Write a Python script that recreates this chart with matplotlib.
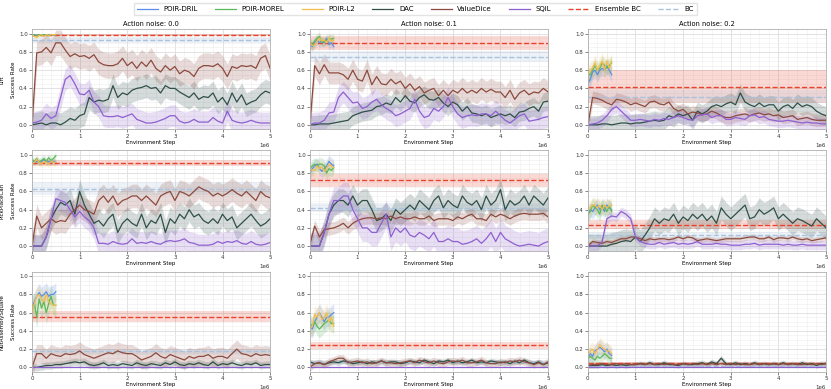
import numpy as np
import matplotlib
matplotlib.use("Agg")
import matplotlib.pyplot as plt
from matplotlib.ticker import AutoMinorLocator

# evaluation steps
STEPS = np.arange(51) * 1e5          # 0 .. 5e6, long runs
POIR_STEPS = np.arange(11) * 5e4     # 0 .. 5e5, POIR runs

TASKS = ["Lift", "PickPlaceCan", "NutAssemblySquare"]
NOISES = ["0.0", "0.1", "0.2"]
METHODS = ["POIR-DRIL", "POIR-MOREL", "POIR-L2", "DAC", "ValueDice", "SQIL"]

# ---------------- Lift ----------------
LIFT_0_DRIL = [0.99, 0.99, 0.98, 0.99, 0.99, 0.99, 0.98, 0.99, 0.99, 0.99, 0.99]
LIFT_0_MOREL = [0.98, 0.99, 0.98, 0.99, 0.98, 0.99, 0.99, 0.98, 0.99, 0.99, 0.99]
LIFT_0_L2 = [0.99, 0.97, 0.96, 0.98, 0.99, 0.97, 0.99, 0.98, 0.99, 0.99, 0.99]
LIFT_0_DAC = [0.0, 0.01, 0.02, 0.0, 0.02, 0.02, 0.0, 0.03, 0.07, 0.05, 0.1, 0.12, 0.3, 0.25, 0.27, 0.26, 0.28,
              0.43, 0.3, 0.35, 0.33, 0.38, 0.4, 0.41, 0.43, 0.4, 0.41, 0.35, 0.43, 0.4, 0.4, 0.36, 0.33, 0.3,
              0.35, 0.28, 0.31, 0.3, 0.35, 0.25, 0.3, 0.22, 0.35, 0.25, 0.33, 0.22, 0.25, 0.27, 0.33, 0.37, 0.35]
LIFT_0_VDICE = [0.0, 0.79, 0.8, 0.85, 0.79, 0.9, 0.9, 0.82, 0.75, 0.78, 0.75, 0.76, 0.73, 0.77, 0.69, 0.66, 0.65,
                0.65, 0.67, 0.73, 0.65, 0.69, 0.62, 0.69, 0.64, 0.71, 0.62, 0.58, 0.65, 0.6, 0.64, 0.56, 0.6,
                0.58, 0.53, 0.62, 0.65, 0.65, 0.64, 0.67, 0.62, 0.53, 0.64, 0.62, 0.65, 0.64, 0.65, 0.62, 0.73,
                0.76, 0.62]
LIFT_0_SQIL = [0.02, 0.03, 0.05, 0.12, 0.07, 0.1, 0.3, 0.5, 0.54, 0.45, 0.34, 0.33, 0.38, 0.25, 0.2, 0.1, 0.09,
               0.09, 0.1, 0.08, 0.1, 0.12, 0.06, 0.04, 0.02, 0.02, 0.03, 0.05, 0.07, 0.1, 0.1, 0.04, 0.02, 0.03,
               0.06, 0.03, 0.03, 0.03, 0.08, 0.04, 0.02, 0.15, 0.05, 0.03, 0.02, 0.03, 0.05, 0.03, 0.02, 0.02, 0.02]

LIFT_1_DRIL = [0.88, 0.86, 0.9, 0.93, 0.9, 0.92, 0.9, 0.95, 0.88, 0.9, 0.86]
LIFT_1_MOREL = [0.9, 0.88, 0.92, 0.95, 0.97, 0.9, 0.92, 0.92, 0.95, 0.94, 0.95]
LIFT_1_L2 = [0.9, 0.87, 0.88, 0.92, 0.95, 0.92, 0.93, 0.9, 0.95, 0.92, 0.93]
LIFT_1_DAC = [0.0, 0.0, 0.01, 0.01, 0.01, 0.02, 0.03, 0.04, 0.05, 0.1, 0.12, 0.14, 0.15, 0.16, 0.2, 0.21, 0.24,
              0.22, 0.3, 0.25, 0.32, 0.26, 0.24, 0.3, 0.33, 0.28, 0.27, 0.3, 0.24, 0.2, 0.25, 0.22, 0.15, 0.2,
              0.13, 0.12, 0.1, 0.12, 0.08, 0.1, 0.12, 0.1, 0.12, 0.08, 0.14, 0.15, 0.18, 0.2, 0.15, 0.25, 0.26]
LIFT_1_VDICE = [0.0, 0.65, 0.56, 0.66, 0.57, 0.57, 0.57, 0.55, 0.5, 0.6, 0.5, 0.48, 0.6, 0.44, 0.53, 0.45, 0.44,
                0.5, 0.45, 0.48, 0.4, 0.45, 0.38, 0.42, 0.35, 0.38, 0.4, 0.32, 0.38, 0.32, 0.38, 0.35, 0.4, 0.35,
                0.38, 0.35, 0.4, 0.36, 0.39, 0.36, 0.36, 0.3, 0.38, 0.28, 0.35, 0.38, 0.33, 0.36, 0.35, 0.4, 0.36]
LIFT_1_SQIL = [0.0, 0.02, 0.02, 0.05, 0.13, 0.14, 0.3, 0.36, 0.3, 0.24, 0.25, 0.18, 0.2, 0.25, 0.28, 0.22, 0.18,
               0.15, 0.1, 0.12, 0.15, 0.18, 0.28, 0.15, 0.08, 0.1, 0.18, 0.15, 0.2, 0.3, 0.2, 0.12, 0.08, 0.1,
               0.11, 0.1, 0.12, 0.12, 0.1, 0.15, 0.1, 0.05, 0.02, 0.06, 0.1, 0.12, 0.04, 0.05, 0.06, 0.08, 0.09]

LIFT_2_DRIL = [0.45, 0.5, 0.58, 0.6, 0.55, 0.6, 0.62, 0.6, 0.65, 0.6, 0.55]
LIFT_2_MOREL = [0.55, 0.55, 0.6, 0.65, 0.6, 0.62, 0.68, 0.65, 0.62, 0.65, 0.68]
LIFT_2_L2 = [0.55, 0.6, 0.62, 0.68, 0.6, 0.65, 0.7, 0.6, 0.7, 0.62, 0.7]
LIFT_2_DAC = [0.0, 0.0, 0.0, 0.01, 0.01, 0.0, 0.01, 0.02, 0.02, 0.01, 0.02, 0.02, 0.03, 0.04, 0.05, 0.04, 0.05,
              0.1, 0.08, 0.12, 0.1, 0.12, 0.05, 0.15, 0.12, 0.15, 0.2, 0.22, 0.2, 0.23, 0.25, 0.22, 0.35, 0.25,
              0.22, 0.2, 0.24, 0.2, 0.22, 0.22, 0.15, 0.2, 0.22, 0.18, 0.24, 0.2, 0.22, 0.2, 0.15, 0.12, 0.1]
LIFT_2_VDICE = [0.0, 0.3, 0.29, 0.27, 0.24, 0.22, 0.28, 0.27, 0.25, 0.22, 0.24, 0.22, 0.2, 0.25, 0.26, 0.23, 0.22,
                0.25, 0.18, 0.15, 0.17, 0.12, 0.14, 0.13, 0.11, 0.12, 0.15, 0.13, 0.1, 0.08, 0.08, 0.1, 0.11,
                0.12, 0.1, 0.12, 0.13, 0.11, 0.12, 0.1, 0.11, 0.08, 0.09, 0.1, 0.06, 0.07, 0.08, 0.06, 0.05,
                0.05, 0.05]
LIFT_2_SQIL = [0.0, 0.01, 0.02, 0.05, 0.1, 0.17, 0.2, 0.15, 0.1, 0.05, 0.05, 0.06, 0.05, 0.04, 0.06, 0.05, 0.07,
               0.06, 0.08, 0.1, 0.08, 0.06, 0.05, 0.1, 0.11, 0.12, 0.08, 0.1, 0.1, 0.06, 0.06, 0.08, 0.07, 0.06,
               0.1, 0.11, 0.08, 0.09, 0.06, 0.05, 0.04, 0.04, 0.05, 0.04, 0.03, 0.02, 0.03, 0.02, 0.02, 0.01, 0.01]

# ---------------- PickPlaceCan ----------------
CAN_0_DRIL = [0.93, 0.92, 0.93, 0.92, 0.93, 0.95, 0.92, 0.93, 0.92, 0.93, 0.92]
CAN_0_MOREL = [0.95, 0.93, 0.96, 0.92, 0.94, 0.96, 0.93, 0.97, 0.94, 0.96, 0.99]
CAN_0_L2 = [0.9, 0.92, 0.95, 0.92, 0.9, 0.93, 0.92, 0.9, 0.93, 0.92, 0.92]
CAN_0_DAC = [0.0, 0.0, 0.0, 0.1, 0.3, 0.4, 0.48, 0.45, 0.5, 0.35, 0.6, 0.45, 0.35, 0.25, 0.28, 0.22, 0.3, 0.35,
             0.15, 0.25, 0.3, 0.25, 0.22, 0.35, 0.2, 0.28, 0.25, 0.35, 0.15, 0.3, 0.25, 0.35, 0.3, 0.4, 0.32,
             0.35, 0.28, 0.25, 0.3, 0.25, 0.35, 0.28, 0.32, 0.2, 0.25, 0.3, 0.35, 0.28, 0.22, 0.25, 0.3]
CAN_0_VDICE = [0.0, 0.33, 0.2, 0.25, 0.3, 0.26, 0.28, 0.27, 0.35, 0.4, 0.45, 0.4, 0.38, 0.35, 0.5, 0.55, 0.48,
               0.55, 0.45, 0.5, 0.52, 0.55, 0.55, 0.5, 0.55, 0.5, 0.45, 0.55, 0.58, 0.6, 0.5, 0.6, 0.58, 0.55,
               0.6, 0.65, 0.62, 0.6, 0.55, 0.58, 0.55, 0.58, 0.62, 0.58, 0.55, 0.6, 0.55, 0.5, 0.6, 0.55, 0.53]
CAN_0_SQIL = [0.0, 0.0, 0.0, 0.1, 0.3, 0.52, 0.5, 0.48, 0.4, 0.32, 0.38, 0.32, 0.28, 0.2, 0.03, 0.03, 0.02, 0.05,
              0.03, 0.02, 0.03, 0.08, 0.03, 0.04, 0.03, 0.05, 0.03, 0.02, 0.05, 0.06, 0.05, 0.06, 0.08, 0.04,
              0.03, 0.01, 0.01, 0.01, 0.02, 0.05, 0.03, 0.05, 0.04, 0.06, 0.03, 0.02, 0.05, 0.02, 0.01, 0.02, 0.04]

CAN_1_DRIL = [0.8, 0.85, 0.88, 0.9, 0.85, 0.82, 0.85, 0.88, 0.93, 0.9, 0.88]
CAN_1_MOREL = [0.85, 0.88, 0.9, 0.88, 0.9, 0.9, 0.88, 0.8, 0.85, 0.83, 0.86]
CAN_1_L2 = [0.82, 0.84, 0.83, 0.88, 0.85, 0.87, 0.82, 0.85, 0.9, 0.88, 0.86]
CAN_1_DAC = [0.0, 0.0, 0.0, 0.15, 0.35, 0.45, 0.5, 0.5, 0.45, 0.55, 0.45, 0.5, 0.5, 0.4, 0.28, 0.3, 0.35, 0.28,
             0.4, 0.35, 0.4, 0.45, 0.4, 0.5, 0.45, 0.4, 0.5, 0.55, 0.42, 0.5, 0.45, 0.42, 0.55, 0.48, 0.45, 0.5,
             0.4, 0.55, 0.45, 0.5, 0.62, 0.4, 0.5, 0.45, 0.48, 0.55, 0.45, 0.55, 0.5, 0.45, 0.53]
CAN_1_VDICE = [0.02, 0.22, 0.1, 0.18, 0.19, 0.2, 0.22, 0.25, 0.2, 0.25, 0.28, 0.3, 0.31, 0.31, 0.3, 0.31, 0.3,
               0.33, 0.3, 0.32, 0.3, 0.3, 0.32, 0.3, 0.3, 0.33, 0.28, 0.3, 0.3, 0.3, 0.28, 0.32, 0.3, 0.33, 0.35,
               0.3, 0.3, 0.28, 0.35, 0.32, 0.35, 0.33, 0.3, 0.33, 0.35, 0.36, 0.35, 0.35, 0.35, 0.36, 0.32]
CAN_1_SQIL = [0.0, 0.0, 0.0, 0.15, 0.35, 0.5, 0.5, 0.55, 0.55, 0.4, 0.3, 0.2, 0.2, 0.15, 0.15, 0.25, 0.35, 0.1,
              0.2, 0.15, 0.2, 0.12, 0.1, 0.15, 0.12, 0.08, 0.15, 0.05, 0.05, 0.08, 0.05, 0.05, 0.02, 0.03, 0.05,
              0.08, 0.03, 0.08, 0.15, 0.05, 0.15, 0.08, 0.05, 0.02, 0.0, 0.01, 0.02, 0.01, 0.0, 0.03, 0.05]

CAN_2_DRIL = [0.35, 0.4, 0.38, 0.42, 0.45, 0.4, 0.43, 0.38, 0.45, 0.42, 0.4]
CAN_2_MOREL = [0.35, 0.38, 0.45, 0.42, 0.4, 0.35, 0.45, 0.42, 0.38, 0.44, 0.38]
CAN_2_L2 = [0.38, 0.42, 0.45, 0.45, 0.42, 0.45, 0.4, 0.45, 0.42, 0.44, 0.45]
CAN_2_DAC = [0.0, 0.0, 0.0, 0.0, 0.0, 0.02, 0.03, 0.05, 0.06, 0.05, 0.1, 0.05, 0.12, 0.2, 0.3, 0.25, 0.3, 0.28,
             0.35, 0.25, 0.32, 0.28, 0.35, 0.3, 0.35, 0.28, 0.33, 0.25, 0.42, 0.35, 0.3, 0.35, 0.4, 0.45, 0.3,
             0.32, 0.4, 0.35, 0.38, 0.42, 0.3, 0.35, 0.3, 0.25, 0.3, 0.28, 0.25, 0.22, 0.3, 0.25, 0.2]
CAN_2_VDICE = [0.0, 0.05, 0.04, 0.03, 0.05, 0.04, 0.06, 0.08, 0.08, 0.1, 0.1, 0.08, 0.06, 0.08, 0.07, 0.08, 0.08,
               0.07, 0.08, 0.1, 0.08, 0.1, 0.09, 0.06, 0.07, 0.08, 0.07, 0.06, 0.07, 0.08, 0.08, 0.08, 0.08,
               0.09, 0.1, 0.1, 0.08, 0.08, 0.1, 0.07, 0.09, 0.09, 0.08, 0.1, 0.08, 0.07, 0.08, 0.06, 0.07, 0.08,
               0.09]
CAN_2_SQIL = [0.0, 0.0, 0.0, 0.05, 0.3, 0.33, 0.32, 0.38, 0.35, 0.3, 0.1, 0.05, 0.03, 0.02, 0.02, 0.04, 0.02,
              0.03, 0.04, 0.02, 0.03, 0.02, 0.03, 0.05, 0.02, 0.02, 0.02, 0.03, 0.02, 0.02, 0.01, 0.01, 0.01,
              0.02, 0.02, 0.03, 0.01, 0.02, 0.02, 0.02, 0.02, 0.01, 0.02, 0.01, 0.01, 0.02, 0.01, 0.01, 0.01,
              0.01, 0.01]

# ---------------- NutAssemblySquare ----------------
NUT_0_DRIL = [0.68, 0.72, 0.78, 0.82, 0.78, 0.8, 0.83, 0.78, 0.8, 0.8, 0.83]
NUT_0_MOREL = [0.65, 0.7, 0.55, 0.75, 0.65, 0.72, 0.6, 0.7, 0.78, 0.68, 0.68]
NUT_0_L2 = [0.58, 0.7, 0.78, 0.8, 0.75, 0.72, 0.8, 0.72, 0.7, 0.68, 0.68]
NUT_0_DAC = [0.0, 0.0, 0.01, 0.02, 0.02, 0.03, 0.03, 0.04, 0.05, 0.06, 0.05, 0.06, 0.03, 0.02, 0.03, 0.05, 0.02,
             0.03, 0.02, 0.04, 0.03, 0.02, 0.05, 0.03, 0.02, 0.04, 0.03, 0.02, 0.05, 0.03, 0.06, 0.03, 0.02,
             0.04, 0.03, 0.05, 0.03, 0.02, 0.06, 0.02, 0.04, 0.03, 0.05, 0.03, 0.02, 0.04, 0.03, 0.05, 0.02,
             0.03, 0.03]
NUT_0_VDICE = [0.0, 0.15, 0.15, 0.1, 0.15, 0.13, 0.12, 0.15, 0.14, 0.15, 0.18, 0.14, 0.12, 0.1, 0.12, 0.14, 0.16,
               0.15, 0.18, 0.16, 0.15, 0.15, 0.12, 0.08, 0.1, 0.12, 0.16, 0.12, 0.1, 0.14, 0.12, 0.1, 0.08, 0.12,
               0.1, 0.12, 0.12, 0.14, 0.1, 0.12, 0.12, 0.1, 0.15, 0.2, 0.15, 0.14, 0.12, 0.15, 0.13, 0.14, 0.13]
NUT_0_SQIL = [0.0] * 51

NUT_1_DRIL = [0.45, 0.42, 0.5, 0.55, 0.6, 0.55, 0.5, 0.55, 0.55, 0.58, 0.6]
NUT_1_MOREL = [0.48, 0.45, 0.5, 0.45, 0.42, 0.45, 0.48, 0.5, 0.52, 0.48, 0.48]
NUT_1_L2 = [0.42, 0.45, 0.58, 0.55, 0.6, 0.52, 0.55, 0.6, 0.5, 0.55, 0.45]
NUT_1_DAC = [0.06, 0.04, 0.05, 0.03, 0.05, 0.06, 0.05, 0.07, 0.06, 0.04, 0.05, 0.06, 0.04, 0.06, 0.05, 0.07, 0.05,
             0.06, 0.06, 0.04, 0.05, 0.07, 0.06, 0.05, 0.08, 0.06, 0.04, 0.07, 0.06, 0.08, 0.05, 0.07, 0.05,
             0.06, 0.08, 0.05, 0.06, 0.05, 0.07, 0.06, 0.05, 0.06, 0.04, 0.07, 0.05, 0.08, 0.05, 0.04, 0.06,
             0.03, 0.05]
NUT_1_VDICE = [0.0, 0.04, 0.05, 0.03, 0.06, 0.08, 0.1, 0.1, 0.05, 0.06, 0.07, 0.05, 0.06, 0.04, 0.05, 0.07, 0.05,
               0.05, 0.04, 0.05, 0.06, 0.07, 0.05, 0.08, 0.06, 0.05, 0.07, 0.05, 0.04, 0.06, 0.07, 0.06, 0.08,
               0.05, 0.05, 0.06, 0.08, 0.05, 0.04, 0.04, 0.06, 0.05, 0.07, 0.06, 0.08, 0.06, 0.05, 0.03, 0.05,
               0.03, 0.06]
NUT_1_SQIL = [0.0] * 51

NUT_2_DRIL = [0.1, 0.15, 0.12, 0.18, 0.2, 0.22, 0.2, 0.17, 0.2, 0.15, 0.13]
NUT_2_MOREL = [0.1, 0.12, 0.1, 0.08, 0.12, 0.1, 0.12, 0.15, 0.13, 0.1, 0.1]
NUT_2_L2 = [0.12, 0.18, 0.2, 0.15, 0.2, 0.25, 0.22, 0.2, 0.18, 0.18, 0.15]
NUT_2_DAC = [0.02, 0.02, 0.02, 0.03, 0.02, 0.03, 0.02, 0.03, 0.02, 0.03, 0.03, 0.04, 0.03, 0.05, 0.03, 0.03,
             0.05, 0.03, 0.03, 0.02, 0.04, 0.03, 0.03, 0.04, 0.05, 0.03, 0.06, 0.04, 0.1, 0.04, 0.03, 0.05,
             0.03, 0.04, 0.03, 0.05, 0.03, 0.04, 0.03, 0.04, 0.03, 0.05, 0.03, 0.04, 0.03, 0.05, 0.03, 0.04,
             0.02, 0.04, 0.04]
NUT_2_VDICE = [0.02, 0.03, 0.03, 0.04, 0.03, 0.03, 0.04, 0.03, 0.04, 0.03, 0.03, 0.04, 0.03, 0.04, 0.03, 0.04,
               0.03, 0.04, 0.03, 0.03, 0.04, 0.03, 0.04, 0.03, 0.04, 0.03, 0.04, 0.03, 0.04, 0.03, 0.04, 0.03,
               0.04, 0.03, 0.03, 0.04, 0.03, 0.04, 0.03, 0.04, 0.03, 0.04, 0.03, 0.04, 0.03, 0.03, 0.04, 0.03,
               0.04, 0.03, 0.04]
NUT_2_SQIL = [0.0] * 51

# band half-widths per panel, order: DRIL, MOREL, L2, DAC, ValueDice, SQIL
STD_LIFT = [[0.01, 0.01, 0.015, 0.13, 0.14, 0.12],
            [0.05, 0.05, 0.05, 0.1, 0.12, 0.12],
            [0.08, 0.08, 0.09, 0.1, 0.07, 0.07]]
STD_CAN = [[0.03, 0.04, 0.04, 0.13, 0.13, 0.12],
           [0.07, 0.07, 0.07, 0.13, 0.07, 0.15],
           [0.08, 0.08, 0.08, 0.13, 0.03, 0.05]]
STD_NUT = [[0.1, 0.12, 0.1, 0.04, 0.1, 0.005],
           [0.1, 0.1, 0.1, 0.03, 0.04, 0.005],
           [0.08, 0.06, 0.08, 0.03, 0.02, 0.005]]

# (mean, half band) per panel, rows = task, cols = noise
ENSEMBLE_BC = [[(0.99, 0.01), (0.9, 0.08), (0.42, 0.18)],
               [(0.91, 0.03), (0.72, 0.07), (0.235, 0.05)],
               [(0.555, 0.06), (0.24, 0.04), (0.045, 0.012)]]
BC = [[(0.93, 0.03), (0.745, 0.06), (0.31, 0.07)],
      [(0.63, 0.07), (0.42, 0.05), (0.12, 0.04)],
      [(0.175, 0.03), (0.06, 0.02), (0.02, 0.01)]]

CURVES = {
    ("Lift", 0): [LIFT_0_DRIL, LIFT_0_MOREL, LIFT_0_L2, LIFT_0_DAC, LIFT_0_VDICE, LIFT_0_SQIL],
    ("Lift", 1): [LIFT_1_DRIL, LIFT_1_MOREL, LIFT_1_L2, LIFT_1_DAC, LIFT_1_VDICE, LIFT_1_SQIL],
    ("Lift", 2): [LIFT_2_DRIL, LIFT_2_MOREL, LIFT_2_L2, LIFT_2_DAC, LIFT_2_VDICE, LIFT_2_SQIL],
    ("PickPlaceCan", 0): [CAN_0_DRIL, CAN_0_MOREL, CAN_0_L2, CAN_0_DAC, CAN_0_VDICE, CAN_0_SQIL],
    ("PickPlaceCan", 1): [CAN_1_DRIL, CAN_1_MOREL, CAN_1_L2, CAN_1_DAC, CAN_1_VDICE, CAN_1_SQIL],
    ("PickPlaceCan", 2): [CAN_2_DRIL, CAN_2_MOREL, CAN_2_L2, CAN_2_DAC, CAN_2_VDICE, CAN_2_SQIL],
    ("NutAssemblySquare", 0): [NUT_0_DRIL, NUT_0_MOREL, NUT_0_L2, NUT_0_DAC, NUT_0_VDICE, NUT_0_SQIL],
    ("NutAssemblySquare", 1): [NUT_1_DRIL, NUT_1_MOREL, NUT_1_L2, NUT_1_DAC, NUT_1_VDICE, NUT_1_SQIL],
    ("NutAssemblySquare", 2): [NUT_2_DRIL, NUT_2_MOREL, NUT_2_L2, NUT_2_DAC, NUT_2_VDICE, NUT_2_SQIL],
}
STDS = {"Lift": STD_LIFT, "PickPlaceCan": STD_CAN, "NutAssemblySquare": STD_NUT}

COLORS = ["#5b8ee6", "#5cb85c", "#f5bc4c", "#2f4f47", "#8c4a3e", "#8e5fd0"]
ENS_COLOR = "#e8432d"
BC_COLOR = "#a9c2de"

plt.rcParams.update({
    "font.size": 4,
    "axes.edgecolor": "#b0b0b0",
    "axes.linewidth": 0.6,
    "xtick.color": "#555555",
    "ytick.color": "#555555",
    "xtick.labelcolor": "#333333",
    "ytick.labelcolor": "#333333",
    "xtick.major.size": 2,
    "ytick.major.size": 2,
    "xtick.minor.size": 0,
    "ytick.minor.size": 0,
    "xtick.major.width": 0.5,
    "ytick.major.width": 0.5,
})

fig, axes = plt.subplots(3, 3, figsize=(8.31, 3.89), dpi=100)
fig.subplots_adjust(left=0.0385, right=0.994, top=0.925, bottom=0.044, wspace=0.167, hspace=0.21)

handles = []
for r, task in enumerate(TASKS):
    for c, noise in enumerate(NOISES):
        ax = axes[r, c]
        curves = CURVES[(task, c)]
        stds = STDS[task][c]

        # baselines
        m, s = ENSEMBLE_BC[r][c]
        ax.axhspan(m - s, m + s, color=ENS_COLOR, alpha=0.2, lw=0)
        h_ens, = ax.plot([0, 5e6], [m, m], ls="--", color=ENS_COLOR, lw=1.0, label="Ensemble BC")
        m, s = BC[r][c]
        ax.axhspan(m - s, m + s, color=BC_COLOR, alpha=0.2, lw=0)
        h_bc, = ax.plot([0, 5e6], [m, m], ls="--", color=BC_COLOR, lw=1.0, label="BC")

        hs = []
        for k in [3, 4, 5, 0, 1, 2]:
            y = np.array(curves[k])
            x = POIR_STEPS if k < 3 else STEPS
            ax.fill_between(x, y - stds[k], y + stds[k], color=COLORS[k], alpha=0.2, lw=0)
            h, = ax.plot(x, y, color=COLORS[k], lw=0.9, label=METHODS[k])
            hs.append((k, h))
        if not handles:
            handles = [h for k, h in sorted(hs)] + [h_ens, h_bc]

        ax.set_xlim(0, 5e6)
        ax.set_ylim(-0.05, 1.05)
        ax.set_yticks([0.0, 0.2, 0.4, 0.6, 0.8, 1.0])
        ax.xaxis.set_minor_locator(AutoMinorLocator(5))
        ax.yaxis.set_minor_locator(AutoMinorLocator(4))
        ax.grid(which="major", color="#dddddd", lw=0.6)
        ax.grid(which="minor", color="#eeeeee", lw=0.4)
        ax.set_axisbelow(True)
        ax.tick_params(labelsize=4, pad=1)
        ax.xaxis.get_offset_text().set_fontsize(4)
        ax.set_xlabel("Environment Step", fontsize=4, labelpad=1)
        if c == 0:
            ax.set_ylabel(f"{task}\n\nSuccess Rate", fontsize=4, labelpad=2)
        if r == 0:
            ax.set_title(f"Action noise: {noise}", fontsize=4.8, pad=2)

fig.legend(handles=handles, labels=[h.get_label() for h in handles], loc="upper center",
           bbox_to_anchor=(0.5, 1.0), ncol=8, fontsize=5, frameon=True, handlelength=3,
           columnspacing=2.5, borderpad=0.4, edgecolor="#dddddd", fancybox=False)

fig.savefig("out.png", dpi=100)
